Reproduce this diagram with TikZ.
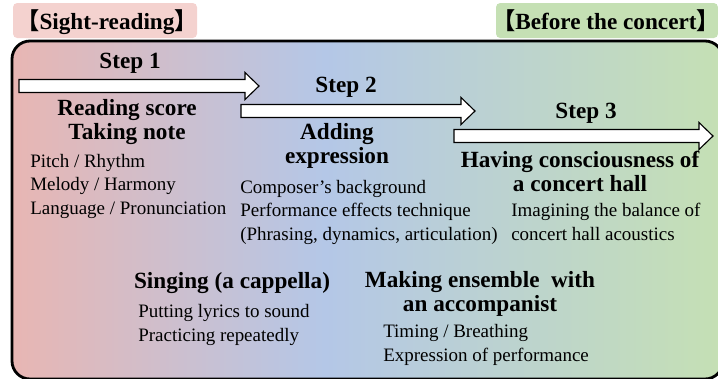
\documentclass[tikz,border=0pt]{standalone}
\usepackage{fontspec}
\setmainfont{Liberation Serif}
\newfontfamily\cjkfont{Noto Sans CJK JP}
\usepackage{tikz}

\definecolor{readpink}{HTML}{E8B6B3}
\definecolor{expblue}{HTML}{B4C7E7}
\definecolor{hallgreen}{HTML}{C5E0B4}
\definecolor{tagpink}{HTML}{F4D2CF}
\definecolor{taggreen}{HTML}{C5E0B4}

\pgfdeclarehorizontalshading{stageshade}{100bp}{
  color(0bp)=(readpink); color(25bp)=(readpink);
  color(47bp)=(expblue);
  color(75bp)=(hallgreen); color(100bp)=(hallgreen)}

% white block arrow: start x, tip x, middle y
\newcommand{\blockarrow}[3]{
  \filldraw[fill=white, draw=black, line width=0.8pt]
    (#1,#3-6.5) -- (#2-14,#3-6.5) -- (#2-14,#3-13.5) -- (#2,#3)
    -- (#2-14,#3+13.5) -- (#2-14,#3+6.5) -- (#1,#3+6.5) -- cycle;
}

% lenticular brackets, outer blank half trimmed
\newcommand{\lbrk}{\hspace*{-0.45em}{\cjkfont 【}}
\newcommand{\rbrk}{{\cjkfont 】}\hspace*{-0.45em}}

% multi-line nodes sit on the baseline of their last line
\tikzset{
  heading/.style={font=\bfseries\fontsize{16.5}{16.4}\selectfont, align=center, inner sep=0pt, anchor=base},
  notes/.style={font=\fontsize{13.5}{16.4}\selectfont, align=left, inner sep=0pt, anchor=base west},
  tag/.style={font=\bfseries\fontsize{16.5}{16.4}\selectfont, inner sep=0pt, anchor=base}
}

\begin{document}
\begin{tikzpicture}[x=0.025cm, y=-0.025cm]
\path[use as bounding box] (0,0) rectangle (718,378);

% Stage tags
\fill[tagpink, rounded corners=3pt] (13,3) rectangle (197,38);
\node[tag] (sight) at (107,29) {\lbrk Sight-reading\rbrk};
\fill[taggreen, rounded corners=3pt] (496,3) rectangle (718,38);
\node[tag] (before) at (606,29) {\lbrk Before the concert\rbrk};

% Outer frame with the colour run
\draw[line width=2pt, rounded corners=0.45cm, shading=stageshade] (12,41) rectangle (723,379);

% Step arrows
\blockarrow{19}{259}{86}
\blockarrow{241}{475}{111}
\blockarrow{454}{713}{136}

% Step 1
\node[heading] (step1) at (130,68) {Step 1};
\node[heading] (score) at (127,139) {Reading score\\Taking note};
\node[notes] (pitch) at (30,214) {Pitch / Rhythm\\Melody / Harmony\\Language / Pronunciation};

% Step 2
\node[heading] (step2) at (346,92) {Step 2};
\node[heading] (adding) at (337,163) {Adding\\expression};
\node[notes] (composer) at (240,240) {Composer's background\\Performance effects technique\\(Phrasing, dynamics, articulation)};

% Step 3
\node[heading] (step3) at (586,118) {Step 3};
\node[heading] (hall) at (580,191) {Having consciousness of\\a concert hall};
\node[notes] (balance) at (511,240) {Imagining the balance of\\concert hall acoustics};

% Singing and ensemble
\node[heading] (singing) at (232,288) {Singing (a cappella)};
\node[notes] (lyrics) at (138,341) {Putting lyrics to sound\\Practicing repeatedly};
\node[heading] (ensemble) at (480,311) {Making ensemble\ \ with\\an accompanist};
\node[notes] (timing) at (383,361) {Timing / Breathing\\Expression of performance};

\end{tikzpicture}
\end{document}
